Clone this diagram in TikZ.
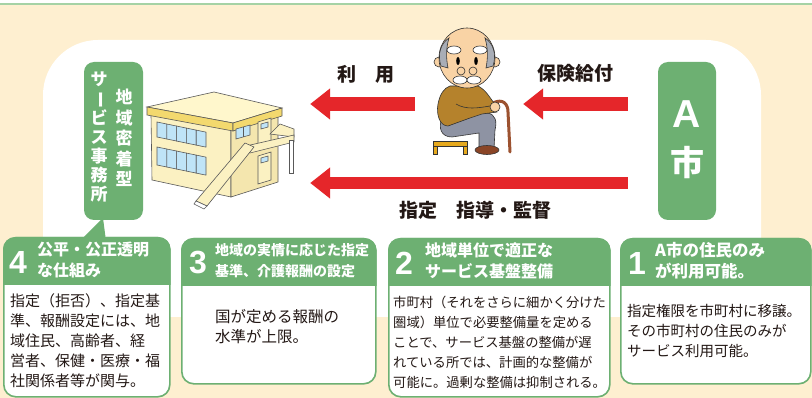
\documentclass[tikz,border=0pt]{standalone}
\usepackage{fontspec}
\setmainfont{Noto Sans CJK JP}
\newfontfamily\numfont{Liberation Sans}
\usepackage{xcolor}
\usetikzlibrary{positioning,calc,arrows.meta}

\definecolor{cream}{HTML}{FEEFD0}
\definecolor{leaf}{HTML}{6DB072}
\definecolor{paleleaf}{HTML}{A5D2A5}
\definecolor{arrowred}{HTML}{E5262A}
\definecolor{ink}{HTML}{231815}
\definecolor{wall}{HTML}{FBF1C2}
\definecolor{wallshade}{HTML}{F4E6AE}
\definecolor{rooftop}{HTML}{FFF7CC}
\definecolor{roofedge}{HTML}{F3D96E}
\definecolor{glass}{HTML}{BFE4F7}
\definecolor{skin}{HTML}{F9D3A5}
\definecolor{hair}{HTML}{A8ADB6}
\definecolor{jacket}{HTML}{B5822C}
\definecolor{trousers}{HTML}{8E93A3}
\definecolor{shoe}{HTML}{8A4526}
\definecolor{cane}{HTML}{9C5230}
\definecolor{stool}{HTML}{E6A91E}

\begin{document}
\begin{tikzpicture}[x=1pt, y=-1pt,
    redarrow/.style={draw=arrowred, line width=14pt, -{Triangle[length=20pt, width=30pt]}},
    tagbox/.style={fill=leaf, rounded corners=10pt, inner sep=0},
    panel/.style={draw=leaf, line width=1.6pt, fill=white, rounded corners=12pt, anchor=north west, inner sep=0},
    digit/.style={text=white, inner sep=0, font=\numfont\bfseries\fontsize{32}{32}\selectfont},
    title/.style={text=white, anchor=west, align=left, inner sep=0, font=\bfseries\fontsize{16}{21}\selectfont},
    body/.style={text=ink, anchor=north west, align=left, inner sep=0, font=\fontsize{15}{20}\selectfont},
    flowlabel/.style={text=ink, inner sep=0, font=\bfseries\fontsize{19}{19}\selectfont},
    column/.style={text=white, align=center, inner sep=0, font=\bfseries\fontsize{17}{20.5}\selectfont}]
    \useasboundingbox (0,0) rectangle (812,398);

    % background
    \fill[cream] (0,0) rectangle (812,398);
    \fill[white] (0,0) rectangle (812,3);
    \fill[paleleaf] (0,3) rectangle (812,5.5);
    \fill[white, rounded corners=55pt] (43,317) -- (43,40) -- (761,40) -- (761,317) -- cycle;

    % office label and city
    \node[tagbox, minimum width=59pt, minimum height=158pt] (agency) at (113.5,141) {};
    \node[column] at (124,138) {地\\域\\密\\着\\型};
    \node[column, font=\bfseries\fontsize{17}{19}\selectfont] at (99,137) {サ\\\rotatebox[origin=c]{-90}{ー}\\ビ\\ス\\事\\務\\所};
    \fill[leaf] (80,241) -- (103,218) -- (106,241) -- cycle;

    \node[tagbox, minimum width=58pt, minimum height=158pt] (city) at (687,141) {};
    \node[text=white, inner sep=0, font=\numfont\bfseries\fontsize{39}{39}\selectfont] at (687,114) {A};
    \node[text=white, inner sep=0, font=\bfseries\fontsize{34}{34}\selectfont] at (687,163) {市};

    % building
    \begin{scope}[draw=black!65, line width=0.6pt]
        \filldraw[fill=wall] (151,115) -- (231,130) -- (231,197) -- (152,180) -- cycle;
        \filldraw[fill=wallshade] (231,130) -- (278,116) -- (278,182) -- (231,197) -- cycle;
        \filldraw[fill=rooftop] (147,107) -- (214,92) -- (282,108) -- (233,123) -- cycle;
        \filldraw[fill=roofedge] (147,107) -- (233,123) -- (233,131) -- (147,115) -- cycle;
        \filldraw[fill=roofedge] (233,123) -- (282,108) -- (282,116) -- (233,131) -- cycle;
        \foreach \i [evaluate=\i as \xa using 157+9.8*\i, evaluate=\i as \ya using 122+2.03*\i] in {0,...,4} {
            \filldraw[fill=glass] (\xa,\ya) -- (\xa+9.8,\ya+2.03) -- (\xa+9.8,\ya+17) -- (\xa,\ya+15) -- cycle;
            \filldraw[fill=glass] (\xa,\ya+25) -- (\xa+9.8,\ya+27) -- (\xa+9.8,\ya+45) -- (\xa,\ya+43) -- cycle;
        }
        \filldraw[fill=glass] (236,129) -- (250,125) -- (250,135) -- (236,139) -- cycle;
        \draw (243,127) -- (243,137);
        \filldraw[fill=wall] (258,122) -- (271,118) -- (271,144) -- (258,148) -- cycle;
        \filldraw[fill=glass] (261,124) -- (268,122) -- (268,127) -- (261,129) -- cycle;
        \filldraw[fill=wall] (258,156) -- (271,152) -- (271,180) -- (258,184) -- cycle;
        \filldraw[fill=glass] (261,158) -- (268,156) -- (268,161) -- (261,163) -- cycle;
        \filldraw[fill=wall] (270,134) -- (280,124) -- (294,129) -- (294,137) -- cycle;
        \filldraw[fill=wall] (246,146) -- (294,135) -- (294,142) -- (250,153) -- cycle;
        \filldraw[fill=white] (289,140) rectangle (293,173);
        \filldraw[fill=wall] (196,201) -- (245,143) -- (254,147) -- (207,206) -- cycle;
        \filldraw[fill=white] (196,201) -- (207,206) -- (204,209) -- (194,204) -- cycle;
    \end{scope}
    \node[inner sep=0, minimum width=148pt, minimum height=116pt] (office) at (221,150) {};

    % elder on a stool
    \begin{scope}[draw=black!80, line width=0.6pt]
        \filldraw[fill=stool] (433,141) rectangle (467,146);
        \filldraw[fill=stool] (433,146) rectangle (437,154);
        \filldraw[fill=stool] (463,146) rectangle (467,154);
        \draw[cane, line width=3pt, line cap=round] (493,103) .. controls (503,98) and (508,104) .. (508,112) -- (510,152);
        \filldraw[fill=trousers] (442,118) -- (487,113) .. controls (496,114) and (497,122) .. (495,130) -- (494,149) -- (479,149) -- (479,133) -- (452,137) .. controls (441,137) and (438,128) .. (442,118) -- cycle;
        \filldraw[fill=shoe] (487,150) ellipse [x radius=12, y radius=4.5];
        \filldraw[fill=jacket] (450,86) -- (478,86) .. controls (486,90) and (490,98) .. (494,103) -- (497,112) -- (482,114) -- (470,118) -- (448,126) .. controls (440,126) and (436,115) .. (438,104) .. controls (440,94) and (444,88) .. (450,86) -- cycle;
        \draw (456,104) .. controls (466,110) and (478,108) .. (490,106);
        \filldraw[fill=skin] (495,107) circle (5);
        \filldraw[fill=skin] (439,62) circle (5);
        \filldraw[fill=skin] (495,62) circle (5);
        \filldraw[fill=skin] (467,58) ellipse [x radius=28, y radius=30];
        \filldraw[fill=hair] (441,66) .. controls (437,54) and (441,43) .. (449,38) .. controls (446,48) and (446,58) .. (448,68) -- cycle;
        \filldraw[fill=hair] (493,66) .. controls (497,54) and (493,43) .. (485,38) .. controls (488,48) and (488,58) .. (486,68) -- cycle;
        \filldraw[fill=white] (454,50) ellipse [x radius=7, y radius=4];
        \filldraw[fill=white] (480,50) ellipse [x radius=7, y radius=4];
        \fill (458,61) ellipse [x radius=1.8, y radius=4];
        \fill (476,61) ellipse [x radius=1.8, y radius=4];
        \draw (461,71) circle (4);
        \draw (473,71) circle (4);
        \filldraw[fill=white] (460,80) ellipse [x radius=7, y radius=4];
        \filldraw[fill=white] (474,80) ellipse [x radius=7, y radius=4];
    \end{scope}
    \node[inner sep=0, minimum width=72pt, minimum height=127pt] (elder) at (469,92) {};

    % flows
    \coordinate (upper) at (0,104);
    \coordinate (lower) at (0,183);
    \draw[redarrow, shorten <=30pt, shorten >=18pt] (city.west |- upper) -- (elder.east |- upper);
    \draw[redarrow, shorten <=18pt, shorten >=15pt] (elder.west |- upper) -- (office.east |- upper);
    \draw[redarrow, line width=12pt, shorten <=30pt, shorten >=15pt] (city.west |- lower) -- (office.east |- lower);
    \node[flowlabel] at (366,74) {利　用};
    \node[flowlabel] at (575,73) {保険給付};
    \node[flowlabel] at (475,210) {指定　指導・監督};

    % panels
    \node[panel, minimum width=166pt, minimum height=159pt] (p4) at (3,237) {};
    \node[panel, minimum width=194pt, minimum height=145pt] (p3) at (181,238) {};
    \node[panel, minimum width=221pt, minimum height=158pt] (p2) at (388,238) {};
    \node[panel, minimum width=190pt, minimum height=145pt] (p1) at (620,238) {};
    \foreach \p in {p4,p3,p2,p1}
        \fill[leaf] ($(\p.north west)+(0,48)$) [rounded corners=12pt] -- (\p.north west) -- (\p.north east) [sharp corners] -- ($(\p.north east)+(0,48)$) -- cycle;

    \node[digit] at ($(p4.north west)+(15,25)$) {4};
    \node[title] at ($(p4.north west)+(34,23)$) {公平・公正透明\\な仕組み};
    \node[body] at ($(p4.north west)+(7,56)$) {指定（拒否）、指定基\\準、報酬設定には、地\\域住民、高齢者、経\\営者、保健・医療・福\\社関係者等が関与。};

    \node[digit] at ($(p3.north west)+(17,25)$) {3};
    \node[title, font=\bfseries\fontsize{14}{21}\selectfont] at ($(p3.north west)+(34,23)$) {地域の実情に応じた指定\\基準、介護報酬の設定};
    \node[body, font=\fontsize{15.5}{20}\selectfont] at ($(p3.north west)+(34,71)$) {国が定める報酬の\\水準が上限。};

    \node[digit] at ($(p2.north west)+(16,25)$) {2};
    \node[title] at ($(p2.north west)+(37,23)$) {地域単位で適正な\\サービス基盤整備};
    \node[body, font=\fontsize{13.3}{20}\selectfont] at ($(p2.north west)+(5,58)$) {市町村（それをさらに細かく分けた\\圏域）単位で必要整備量を定める\\ことで、サービス基盤の整備が遅\\れている所では、計画的な整備が\\可能に。過剰な整備は抑制される。};

    \node[digit] at ($(p1.north west)+(17,25)$) {1};
    \node[title, font=\bfseries\fontsize{16.5}{21}\selectfont] at ($(p1.north west)+(35,23)$) {A市の住民のみ\\が利用可能。};
    \node[body, font=\fontsize{14.5}{20}\selectfont] at ($(p1.north west)+(7,66)$) {指定権限を市町村に移譲。\\その市町村の住民のみが\\サービス利用可能。};
\end{tikzpicture}
\end{document}
